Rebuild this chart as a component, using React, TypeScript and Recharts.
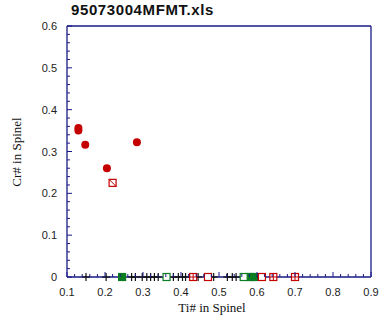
import { ScatterChart, Scatter, XAxis, YAxis } from "recharts";

// Ti# / Cr# values
const crossTi = [0.15, 0.203, 0.27, 0.28, 0.298, 0.31, 0.32, 0.33, 0.34, 0.38, 0.393, 0.404, 0.412, 0.445, 0.486, 0.522, 0.535, 0.545, 0.602];
const crossCr = [0, 0, 0, 0, 0, 0, 0, 0, 0, 0, 0, 0, 0, 0, 0, 0, 0, 0, 0];
const greenFillTi = [0.245, 0.582, 0.59];
const greenFillCr = [0, 0, 0];
const greenOpenTi = [0.362, 0.565];
const greenOpenCr = [0, 0];
const redOpenTi = [0.471, 0.613];
const redOpenCr = [0, 0];
const redPlusTi = [0.432, 0.643, 0.7];
const redPlusCr = [0, 0, 0];
const redDiagTi = [0.22];
const redDiagCr = [0.225];
const dotTi = [0.13, 0.13, 0.148, 0.205, 0.284];
const dotCr = [0.356, 0.35, 0.316, 0.26, 0.322];

const xMajor = [0.1, 0.2, 0.3, 0.4, 0.5, 0.6, 0.7, 0.8, 0.9];
const yMajor = [0, 0.1, 0.2, 0.3, 0.4, 0.5, 0.6];

const AXIS = "#1a1a86";
const RED = "#c40000";
const GREEN = "#0a7d22";

const withMinor = (major: number[]) => {
  const out: number[] = [];
  for (let i = 0; i < major.length - 1; i++) {
    for (let k = 0; k < 5; k++) out.push(Number((major[i] + k * 0.02).toFixed(2)));
  }
  out.push(major[major.length - 1]);
  return out;
};
const xTicks = withMinor(xMajor);
const yTicks = withMinor(yMajor);
const isMajor = (v: number) => Math.round(v * 100) % 10 === 0;

const pts = (xs: number[], ys: number[]) => xs.map((x, i) => ({ ti: x, cr: ys[i] }));

const labelStyle = { fontFamily: "Liberation Sans, Arial, sans-serif", fontSize: 11, fill: "#222" };

const BottomTick = ({ x, y, payload }: any) => {
  const m = isMajor(payload.value);
  return (
    <g>
      <line x1={x} x2={x} y1={y} y2={y - (m ? 5 : 3)} stroke={AXIS} />
      {m && (
        <text x={x} y={y + 19} textAnchor="middle" {...labelStyle}>
          {payload.value === 0 ? "0" : payload.value.toFixed(1)}
        </text>
      )}
    </g>
  );
};
const TopTick = ({ x, y, payload }: any) => (
  <line x1={x} x2={x} y1={y} y2={y + (isMajor(payload.value) ? 5 : 3)} stroke={AXIS} />
);
const LeftTick = ({ x, y, payload }: any) => {
  const m = isMajor(payload.value);
  return (
    <g>
      <line x1={x} x2={x + (m ? 5 : 3)} y1={y} y2={y} stroke={AXIS} />
      {m && (
        <text x={x - 10} y={y + 4} textAnchor="end" {...labelStyle}>
          {payload.value === 0 ? "0" : payload.value.toFixed(1)}
        </text>
      )}
    </g>
  );
};
const RightTick = ({ x, y, payload }: any) => (
  <line x1={x} x2={x - (isMajor(payload.value) ? 5 : 3)} y1={y} y2={y} stroke={AXIS} />
);

const Cross = ({ cx, cy }: any) => (
  <g stroke="#111" strokeWidth={1.2}>
    <line x1={cx - 4} x2={cx + 4} y1={cy} y2={cy} />
    <line x1={cx} x2={cx} y1={cy - 4} y2={cy + 4} />
  </g>
);
const Sq = ({ cx, cy, stroke, fill }: any) => (
  <rect x={cx - 3.5} y={cy - 3.5} width={7} height={7} fill={fill} stroke={stroke} strokeWidth={1.2} />
);
const GreenFill = (p: any) => <Sq {...p} stroke={GREEN} fill={GREEN} />;
const GreenOpen = (p: any) => <Sq {...p} stroke={GREEN} fill="#fff" />;
const RedOpen = (p: any) => <Sq {...p} stroke={RED} fill="#fff" />;
const RedPlus = (p: any) => (
  <g>
    <Sq {...p} stroke={RED} fill="#fff" />
    <line x1={p.cx - 3.5} x2={p.cx + 3.5} y1={p.cy} y2={p.cy} stroke={RED} />
    <line x1={p.cx} x2={p.cx} y1={p.cy - 3.5} y2={p.cy + 3.5} stroke={RED} />
  </g>
);
const RedDiag = (p: any) => (
  <g>
    <Sq {...p} stroke={RED} fill="#fff" />
    <line x1={p.cx - 3.5} x2={p.cx + 3.5} y1={p.cy - 3.5} y2={p.cy + 3.5} stroke={RED} />
  </g>
);
const Dot = ({ cx, cy }: any) => <circle cx={cx} cy={cy} r={4} fill={RED} />;

export default function App() {
  return (
    <div style={{ position: "absolute", left: 0, top: 0, width: 388, height: 323, background: "#fff" }}>
      <div
        style={{
          position: "absolute",
          left: 71,
          top: 1,
          fontFamily: "Liberation Sans, Arial, sans-serif",
          fontWeight: "bold",
          fontSize: 15,
          letterSpacing: 0.6,
          color: "#111",
        }}
      >
        95073004MFMT.xls
      </div>
      <div
        style={{
          position: "absolute",
          left: 0,
          top: 300,
          width: 424,
          textAlign: "center",
          fontFamily: "Liberation Serif, Times New Roman, serif",
          fontSize: 13,
          color: "#111",
        }}
      >
        Ti# in Spinel
      </div>
      <div
        style={{
          position: "absolute",
          left: 17,
          top: 152,
          transform: "translate(-50%, -50%) rotate(-90deg)",
          whiteSpace: "nowrap",
          fontFamily: "Liberation Serif, Times New Roman, serif",
          fontSize: 13,
          color: "#111",
        }}
      >
        Cr# in Spinel
      </div>
      <ScatterChart width={388} height={323} margin={{ top: 25, right: 0, bottom: 0, left: 0 }}>
        <XAxis
          xAxisId="b"
          dataKey="ti"
          type="number"
          domain={[0.1, 0.9]}
          ticks={xTicks}
          interval={0}
          height={46}
          tickSize={0}
          tickMargin={0}
          tickLine={false}
          axisLine={{ stroke: AXIS, strokeWidth: 1.3 }}
          tick={<BottomTick />}
        />
        <XAxis
          xAxisId="t"
          orientation="top"
          dataKey="ti"
          type="number"
          domain={[0.1, 0.9]}
          ticks={xTicks}
          interval={0}
          height={1}
          tickSize={0}
          tickMargin={0}
          tickLine={false}
          axisLine={{ stroke: AXIS, strokeWidth: 1.3 }}
          tick={<TopTick />}
        />
        <YAxis
          yAxisId="l"
          dataKey="cr"
          type="number"
          domain={[0, 0.6]}
          ticks={yTicks}
          interval={0}
          width={67}
          tickSize={0}
          tickMargin={0}
          tickLine={false}
          axisLine={{ stroke: AXIS, strokeWidth: 1.3 }}
          tick={<LeftTick />}
        />
        <YAxis
          yAxisId="r"
          orientation="right"
          dataKey="cr"
          type="number"
          domain={[0, 0.6]}
          ticks={yTicks}
          interval={0}
          width={17}
          tickSize={0}
          tickMargin={0}
          tickLine={false}
          axisLine={{ stroke: AXIS, strokeWidth: 1.3 }}
          tick={<RightTick />}
        />
        <Scatter xAxisId="b" yAxisId="l" data={pts(crossTi, crossCr)} shape={<Cross />} isAnimationActive={false} />
        <Scatter xAxisId="b" yAxisId="l" data={pts(greenFillTi, greenFillCr)} shape={<GreenFill />} isAnimationActive={false} />
        <Scatter xAxisId="b" yAxisId="l" data={pts(greenOpenTi, greenOpenCr)} shape={<GreenOpen />} isAnimationActive={false} />
        <Scatter xAxisId="b" yAxisId="l" data={pts(redOpenTi, redOpenCr)} shape={<RedOpen />} isAnimationActive={false} />
        <Scatter xAxisId="b" yAxisId="l" data={pts(redPlusTi, redPlusCr)} shape={<RedPlus />} isAnimationActive={false} />
        <Scatter xAxisId="b" yAxisId="l" data={pts(redDiagTi, redDiagCr)} shape={<RedDiag />} isAnimationActive={false} />
        <Scatter xAxisId="b" yAxisId="l" data={pts(dotTi, dotCr)} shape={<Dot />} isAnimationActive={false} />
      </ScatterChart>
    </div>
  );
}
